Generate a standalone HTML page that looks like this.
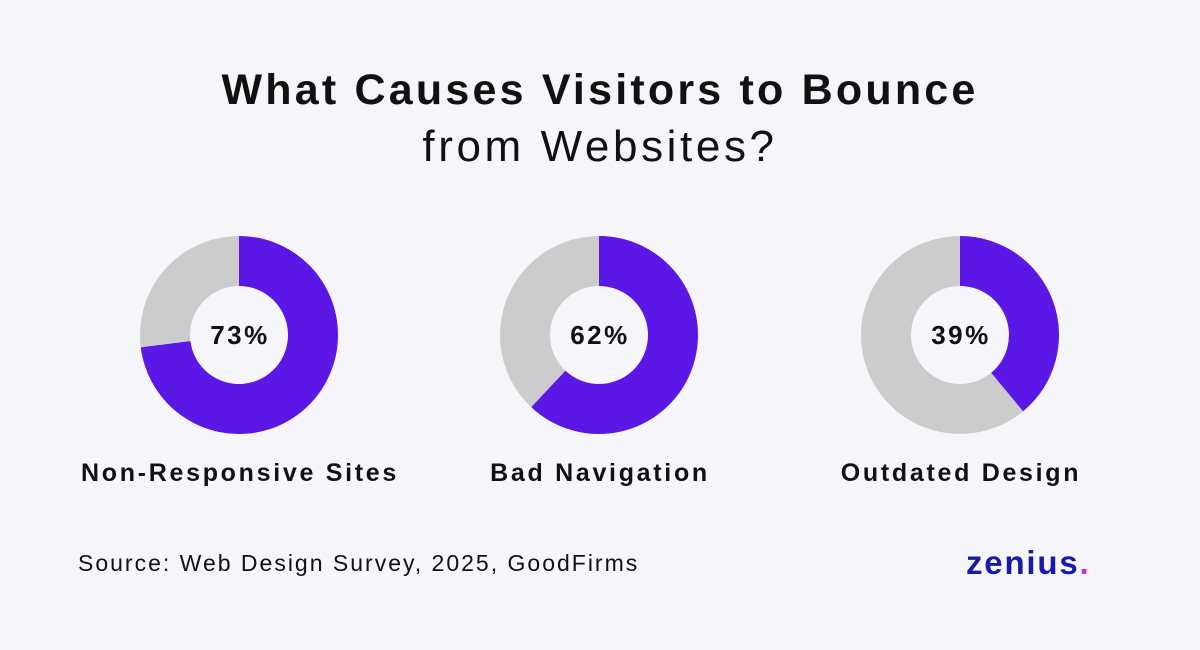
<!DOCTYPE html>
<html><head><meta charset="utf-8"><style>
body{margin:0;width:1200px;height:650px;background:#f5f5fa;font-family:"Liberation Sans",sans-serif;overflow:hidden;position:relative}
.t{position:absolute;left:0;width:1200px;text-align:center;color:#111}
</style></head><body>
<div class="t" style="top:66px;font-size:43px;font-weight:bold;letter-spacing:3.2px;">What Causes Visitors to Bounce</div>
<div class="t" style="top:122px;font-size:44px;letter-spacing:3.6px;">from Websites?</div>
<svg id="c" width="1200" height="650" style="position:absolute;left:0;top:0"></svg>
<div style="position:absolute;left:78px;top:550px;font-size:23px;color:#111;letter-spacing:2px">Source: Web Design Survey, 2025, GoodFirms</div>
<div style="position:absolute;left:966px;top:544px;font-size:33px;font-weight:bold;color:#1a1aa8;letter-spacing:1.8px">zenius<span style="color:#c22ee8">.</span></div>
<script>
const categories=["Non-Responsive Sites","Bad Navigation","Outdated Design"];
const values=[73,62,39];
const centersX=[239,599,960];
const cy=335,R=99,r=49;
const svg=document.getElementById('c');
const NS='http://www.w3.org/2000/svg';
function pt(rad,f){const a=f*2*Math.PI-Math.PI/2;return [rad*Math.cos(a),rad*Math.sin(a)];}
categories.forEach((cat,i)=>{
 const cx=centersX[i],f=values[i]/100;
 const bg=document.createElementNS(NS,'circle');
 bg.setAttribute('cx',cx);bg.setAttribute('cy',cy);bg.setAttribute('r',(R+r)/2);
 bg.setAttribute('fill','none');bg.setAttribute('stroke','#cccccc');bg.setAttribute('stroke-width',R-r);
 
 
 svg.appendChild(bg);
 const [x1,y1]=pt(R,f),[x2,y2]=pt(r,f);const lg=f>0.5?1:0;
 const p=document.createElementNS(NS,'path');
 p.setAttribute('d',`M${cx},${cy-R}A${R},${R} 0 ${lg} 1 ${cx+x1},${cy+y1}L${cx+x2},${cy+y2}A${r},${r} 0 ${lg} 0 ${cx},${cy-r}Z`);
 p.setAttribute('fill','#5b17e6');
 
 
 svg.appendChild(p);
 const t=document.createElementNS(NS,'text');
 t.setAttribute('x',cx+1);t.setAttribute('y',cy+9);t.setAttribute('text-anchor','middle');
 t.setAttribute('font-size','26');t.setAttribute('font-weight','bold');t.setAttribute('fill','#111');
 t.setAttribute('letter-spacing','2.5');
 t.setAttribute('font-family','Liberation Sans, sans-serif');
 t.textContent=values[i]+'%';
 
 
 svg.appendChild(t);
 const l=document.createElementNS(NS,'text');
 l.setAttribute('x',cx+1);l.setAttribute('y',481);l.setAttribute('text-anchor','middle');
 l.setAttribute('font-size','25');l.setAttribute('font-weight','bold');l.setAttribute('fill','#111');
 l.setAttribute('letter-spacing','2.7');
 l.setAttribute('font-family','Liberation Sans, sans-serif');
 l.textContent=cat;
 
 
 svg.appendChild(l);
});
</script>
</body></html>
